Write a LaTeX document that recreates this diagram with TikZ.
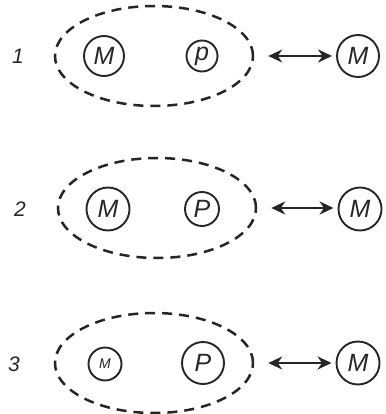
\documentclass[tikz,border=0pt]{standalone}
\usepackage{xcolor}
\usepackage{fontspec}
\setmainfont{Liberation Sans}
\usepackage{tikz}
\usetikzlibrary{shapes}
\usetikzlibrary{arrows.meta}

\definecolor{ink}{HTML}{262626}

\tikzset{
	lett/.style={circle,draw=ink,text=ink,line width=1.9pt,inner sep=0pt,minimum size=#1,font=\itshape\fontsize{25}{25}\selectfont},
	grp/.style={ellipse,draw=ink,line width=2.5pt,dash pattern=on 10pt off 7pt,inner sep=0pt,minimum width=198pt,minimum height=100pt},
	link/.style={{Stealth[length=14pt,width=13pt]}-{Stealth[length=14pt,width=13pt]},line width=2.7pt,draw=ink,shorten <=14pt,shorten >=4pt},
	rownum/.style={text=ink,font=\itshape\fontsize{21}{21}\selectfont}
}

\begin{document}
\begin{tikzpicture}[x=1pt,y=-1pt]
		\useasboundingbox (0,0) rectangle (385,414);

		% Row 1
		\node[rownum] at (18,56) (n1) {1};
		\node[grp] at (154,56) (e1) {};
		\node[lett=40pt] at (104,56) (m1) {M};
		\node[lett=31pt] at (202,56) (p1) {p};
		\node[lett=42pt] at (358,56) (mr1) {M};
		\draw[link] (e1.east) -- (mr1.west);

		% Row 2
		\node[rownum] at (20,209) (n2) {2};
		\node[grp] at (157,208) (e2) {};
		\node[lett=43pt] at (108,209) (m2) {M};
		\node[lett=34pt] at (202,209) (p2) {P};
		\node[lett=43pt] at (360,209) (mr2) {M};
		\draw[link] (e2.east) -- (e2.east -| mr2.west);

		% Row 3
		\node[rownum] at (14,364) (n3) {3};
		\node[grp] at (154,363) (e3) {};
		\node[lett=33pt,font=\itshape\fontsize{14}{14}\selectfont] at (105,364) (m3) {M};
		\node[lett=42pt] at (203,363) (p3) {P};
		\node[lett=43pt] at (358,363) (mr3) {M};
		\draw[link] (e3.east) -- (mr3.west);
	\end{tikzpicture}
\end{document}
